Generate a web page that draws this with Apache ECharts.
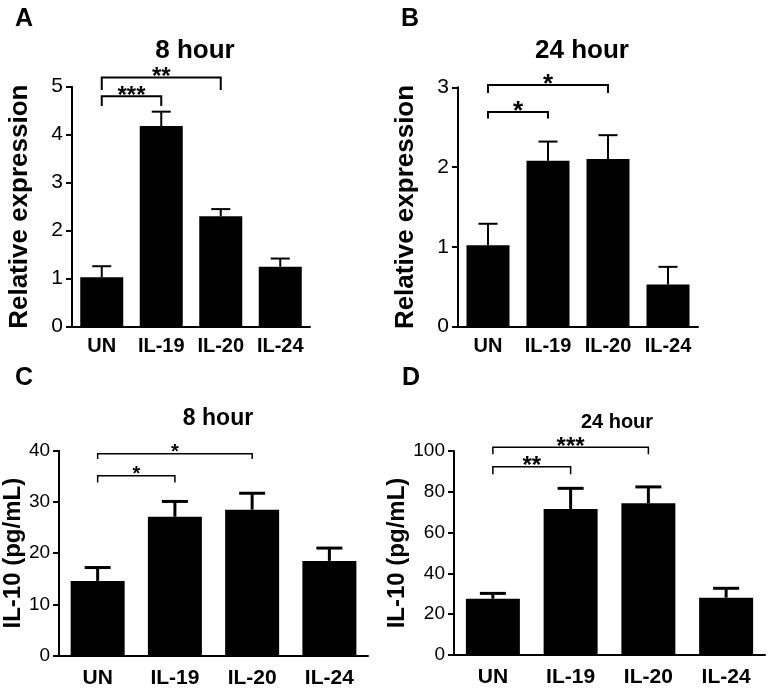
<!DOCTYPE html>
<html lang="en">
<head>
<meta charset="UTF-8">
<title>IL-10 expression</title>
<script src="https://cdn.jsdelivr.net/npm/echarts@6/dist/echarts.min.js"></script>
<style>
  html, body { margin: 0; padding: 0; background: #fff; }
  #main { width: 771px; height: 693px; }
</style>
</head>
<body>
<div id="main"></div>
<script>
// categories
var cats = ['UN', 'IL-19', 'IL-20', 'IL-24'];

// A: relative expression, 8 hour
var meanA = [1.03, 4.18, 2.30, 1.25];
var semA = [0.23, 0.30, 0.15, 0.17];
// B: relative expression, 24 hour
var meanB = [1.02, 2.08, 2.10, 0.53];
var semB = [0.27, 0.24, 0.30, 0.22];
// C: IL-10 pg/mL, 8 hour
var meanC = [14.6, 27.1, 28.5, 18.5];
var semC = [2.6, 3.0, 3.2, 2.5];
// D: IL-10 pg/mL, 24 hour
var meanD = [27.6, 71.6, 74.4, 28.1];
var semD = [2.6, 10.1, 8.0, 4.6];

// significance brackets: [from, to, line y, leg bottom y]
var sigA = [[0, 1, 4.8, 4.6], [0, 2, 5.19, 4.93]];
var sigAText = ['***', '**'];
var sigB = [[0, 1, 2.69, 2.61], [0, 2, 3.03, 2.93]];
var sigBText = ['*', '*'];
var sigC = [[0, 1, 35.1, 33.8], [0, 2, 39.4, 38.4]];
var sigCText = ['*', '*'];
var sigD = [[0, 1, 92.3, 88.6], [0, 2, 101.8, 98.4]];
var sigDText = ['**', '***'];

var FONT = 'Liberation Sans, Arial, sans-serif';

var myChart = echarts.init(document.getElementById('main'));

function xAx(i, fs, margin) {
  return {
    type: 'category', gridIndex: i, data: cats,
    axisLine: { lineStyle: { color: '#000', width: 2 } },
    axisTick: { alignWithLabel: true, length: 6, lineStyle: { color: '#000', width: 2 } },
    axisLabel: { interval: 0, color: '#000', fontWeight: 'bold', fontSize: fs, fontFamily: FONT, margin: margin }
  };
}
function yAx(i, max, step, name, fs, nfs, gap) {
  return {
    type: 'value', gridIndex: i, min: 0, max: max, interval: step,
    name: name, nameLocation: 'middle', nameRotate: 90, nameGap: gap,
    nameTextStyle: { color: '#000', fontWeight: 'bold', fontSize: nfs, fontFamily: FONT },
    splitLine: { show: false },
    axisLine: { show: true, lineStyle: { color: '#000', width: 2 } },
    axisTick: { show: true, length: 6, lineStyle: { color: '#000', width: 2 } },
    axisLabel: { color: '#000', fontSize: fs, fontFamily: FONT, margin: 9 }
  };
}

function barSeries(i, data, w) {
  return { type: 'bar', xAxisIndex: i, yAxisIndex: i, data: data, barWidth: w,
    itemStyle: { color: '#000' }, silent: true };
}

function errSeries(i, mean, sem, cap, lw) {
  var d = mean.map(function (m, k) { return [k, m, sem[k]]; });
  return {
    type: 'custom', xAxisIndex: i, yAxisIndex: i, data: d, silent: true, z: 3,
    renderItem: function (params, api) {
      var x = api.value(0), m = api.value(1), s = api.value(2);
      var p0 = api.coord([x, m]);
      var p1 = api.coord([x, m + s]);
      var st = { stroke: '#000', lineWidth: lw };
      return { type: 'group', children: [
        { type: 'line', shape: { x1: p0[0], y1: p0[1], x2: p1[0], y2: p1[1] }, style: st },
        { type: 'line', shape: { x1: p1[0] - cap / 2, y1: p1[1], x2: p1[0] + cap / 2, y2: p1[1] }, style: st }
      ] };
    }
  };
}

function sigSeries(i, sig, txt, fs, lw, dy) {
  return {
    type: 'custom', xAxisIndex: i, yAxisIndex: i, data: sig, silent: true, clip: false, z: 4,
    encode: { x: [0, 1], y: [2, 3] },
    renderItem: function (params, api) {
      var a = api.coord([api.value(0), api.value(2)]);
      var b = api.coord([api.value(1), api.value(2)]);
      var leg = api.coord([api.value(0), api.value(3)])[1];
      var st = { stroke: '#000', lineWidth: lw, fill: null };
      return { type: 'group', children: [
        { type: 'polyline', shape: { points: [[a[0], leg], [a[0], a[1]], [b[0], b[1]], [b[0], leg]] }, style: st },
        { type: 'text', x: (a[0] + b[0]) / 2, y: a[1] + dy,
          style: { text: txt[params.dataIndex], fill: '#000', fontSize: fs, fontWeight: 'bold',
                   fontFamily: FONT, align: 'center', verticalAlign: 'middle' } }
      ] };
    }
  };
}

function heading(text, x, y, fs) {
  return { text: text, left: x, top: y, textAlign: 'center',
    textStyle: { color: '#000', fontWeight: 'bold', fontSize: fs, fontFamily: FONT } };
}
function letter(t, x, y) {
  return { type: 'text', left: x, top: y,
    style: { text: t, fill: '#000', fontWeight: 'bold', fontSize: 25, fontFamily: FONT } };
}

var option = {
  backgroundColor: '#fff',
  animation: false,
  title: [
    heading('8 hour', 190, 33, 26),
    heading('24 hour', 577, 33, 26),
    heading('8 hour', 213, 402, 23),
    heading('24 hour', 612, 407, 20)
  ],
  graphic: [
    letter('A', 15, 7),
    letter('B', 401, 7),
    letter('C', 15, 366),
    letter('D', 402, 366)
  ],
  grid: [
    { left: 72, top: 86.7, width: 238, height: 240 },
    { left: 458, top: 87.3, width: 240, height: 239.4 },
    { left: 59, top: 450.7, width: 309, height: 205 },
    { left: 454, top: 451, width: 311, height: 204 }
  ],
  xAxis: [ xAx(0, 20, 10), xAx(1, 20, 10), xAx(2, 21, 12), xAx(3, 21, 12) ],
  yAxis: [
    yAx(0, 5, 1, 'Relative expression', 21, 26, 39),
    yAx(1, 3, 1, 'Relative expression', 21, 26, 39),
    yAx(2, 40, 10, 'IL-10 (pg/mL)', 19, 24, 33),
    yAx(3, 100, 20, 'IL-10 (pg/mL)', 19, 24, 35)
  ],
  series: [
    barSeries(0, meanA, 43), errSeries(0, meanA, semA, 19, 2), sigSeries(0, sigA, sigAText, 24, 2, 0),
    barSeries(1, meanB, 43), errSeries(1, meanB, semB, 19, 2), sigSeries(1, sigB, sigBText, 26, 2, 0),
    barSeries(2, meanC, 54), errSeries(2, meanC, semC, 26, 3), sigSeries(2, sigC, sigCText, 20, 1.5, -1),
    barSeries(3, meanD, 54), errSeries(3, meanD, semD, 26, 3), sigSeries(3, sigD, sigDText, 24, 1.5, 0)
  ]
};
myChart.setOption(option);
</script>
</body>
</html>
